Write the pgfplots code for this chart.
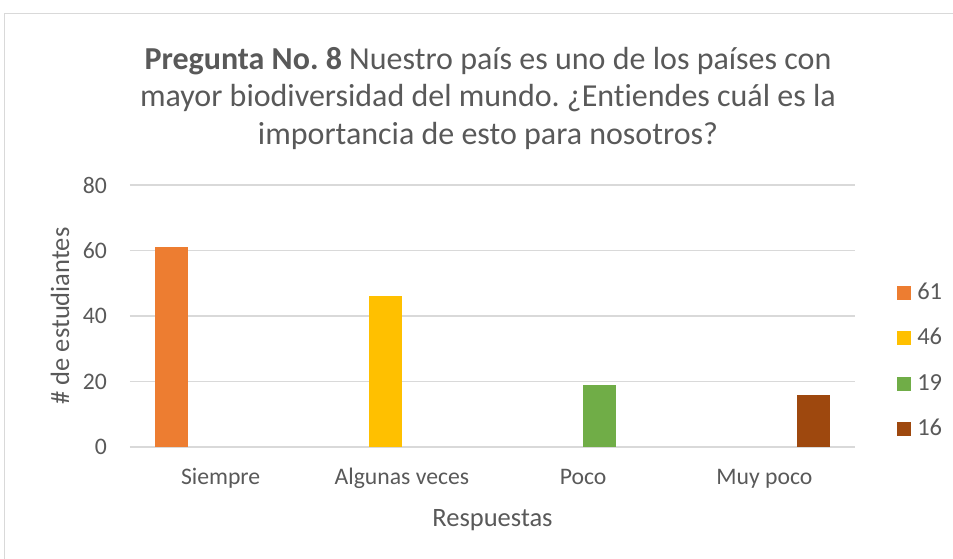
\documentclass[border=0pt]{standalone}
\usepackage{fontspec}
\setmainfont{Carlito}[Ligatures=NoCommon]
\usepackage{pgfplots}
\pgfplotsset{compat=1.18}
\definecolor{txt}{HTML}{595959}
\definecolor{gridc}{HTML}{D9D9D9}
\definecolor{c1}{HTML}{ED7D31}
\definecolor{c2}{HTML}{FFC000}
\definecolor{c3}{HTML}{70AD47}
\definecolor{c4}{HTML}{9E480E}
\frenchspacing
\begin{document}
\begin{tikzpicture}
\begin{axis}[
  width=725pt, height=262pt, scale only axis,
  ybar=0pt, bar width=0.1816,
  xmin=-0.5, xmax=3.5, ymin=0, ymax=80,
  xtick={0,1,2,3}, xticklabels={Siempre, Algunas veces, Poco, Muy poco},
  ytick={0,20,40,60,80},
  ymajorgrids, grid style={gridc, line width=1.3pt},
  axis line style={draw=none}, major tick length=0pt,
  tick label style={txt, font=\fontsize{23.7}{28}\selectfont, inner sep=0pt},
  /pgf/number format/assume math mode=true,
  yticklabel style={xshift=-23pt},
  xticklabel style={text height=16pt, text depth=5pt, yshift=-21pt},
  xlabel={Respuestas}, ylabel={\# de estudiantes},
  label style={txt, font=\fontsize{26.5}{30}\selectfont, inner sep=0pt},
  xlabel style={at={(axis description cs:0.5,-0.278)}, anchor=center},
  ylabel style={at={(axis description cs:-0.0966,0.5)}, anchor=center},
  legend style={at={(axis description cs:1.058,0.6221)}, anchor=north west,
    draw=none, fill=none, font=\fontsize{24.5}{28}\selectfont, text=txt,
    row sep=30pt, column sep=6pt, inner sep=0pt,
    nodes={inner sep=0pt, text height=15pt, text depth=0pt}},
  legend cell align=left,
  legend image code/.code={\fill[#1,draw=none] (0pt,-8pt) rectangle (14pt,6pt);},
]
\addplot[fill=c1, draw=none, bar shift=-0.2724] coordinates {(0,61)};
\addplot[fill=c2, draw=none, bar shift=-0.0908] coordinates {(1,46)};
\addplot[fill=c3, draw=none, bar shift=0.0908] coordinates {(2,19)};
\addplot[fill=c4, draw=none, bar shift=0.2724] coordinates {(3,16)};
\legend{61, 46, 19, 16}
\coordinate (O) at (rel axis cs:0,0);
\end{axis}
\pgfresetboundingbox
\path[use as bounding box] ([shift={(-130pt,-112pt)}]O) rectangle ([shift={(823pt,447pt)}]O);
\draw[gridc, line width=1pt] ([shift={(-125pt,-130pt)}]O) rectangle ([shift={(840pt,433pt)}]O);
\node[txt, font=\fontsize{32}{37.5}\selectfont, align=center]
  at ([shift={(358pt,349pt)}]O)
  {\textbf{Pregunta No. 8} Nuestro país es uno de los países con\\
   mayor biodiversidad del mundo. ¿Entiendes cuál es la\\
   importancia de esto para nosotros?};
\end{tikzpicture}
\end{document}
